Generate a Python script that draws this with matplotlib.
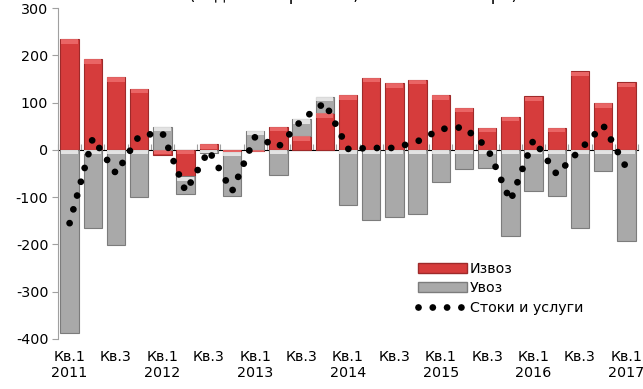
import numpy as np
import matplotlib
matplotlib.use("Agg")
import matplotlib.pyplot as plt
from matplotlib.patches import Patch
from matplotlib.lines import Line2D

# Годишна промена по квартали, 2011 Кв.1 - 2017 Кв.1 (милиони евра)
izvoz = [234, 192, 154, 129, -11, -56, 12, -4, -3, 49, 29, 78, 116,
         153, 141, 148, 116, 89, 47, 70, 113, 47, 166, 99, 143]
uvoz = [-388, -166, -202, -99, 49, -37, -7, -93, 40, -53, 36, 34, -116,
        -148, -141, -135, -69, -41, -39, -183, -88, -97, -166, -44, -192]
stoki_uslugi = [-155, 25, -50, 30, 36, -88, -1, -88, 28, 6, 63, 100, 2,
                4, 4, 18, 44, 48, 5, -108, 22, -52, 0, 52, -38]

xlabels = ['Кв.1\n2011', 'Кв.3', 'Кв.1\n2012', 'Кв.3', 'Кв.1\n2013', 'Кв.3',
           'Кв.1\n2014', 'Кв.3', 'Кв.1\n2015', 'Кв.3', 'Кв.1\n2016', 'Кв.3',
           'Кв.1\n2017']

RED, RED_EDGE, RED_TOP = '#d63c3c', '#9e2a2a', '#f07070'
GRAY, GRAY_EDGE, GRAY_TOP = '#a9a9a9', '#7c7c7c', '#f2f2f2'
FS = 10.3

plt.rcParams['axes.unicode_minus'] = False


def bevel_bars(ax, x, heights, bottoms, color, edge, top_color, width=0.8):
    """Столбови со посветол раб на горната страна (како во Excel)"""
    heights = np.asarray(heights, float)
    bottoms = np.asarray(bottoms, float)
    ax.bar(x, heights, width, bottom=bottoms, color=color,
           edgecolor=edge, linewidth=0.8, zorder=2)
    tops = np.maximum(bottoms, bottoms + heights)
    band = np.minimum(np.abs(heights), 9)
    ax.bar(x, -band, width * 0.92, bottom=tops - 0.6, color=top_color,
           linewidth=0, alpha=0.8, zorder=2.1)


def main():
    x = np.arange(len(izvoz))
    ex = np.array(izvoz, float)
    im = np.array(uvoz, float)
    # увозот се надоврзува на извозот кога имаат ист знак
    im_bottom = np.where(np.sign(im) == np.sign(ex), ex, 0)

    fig = plt.figure(figsize=(6.43, 3.89), dpi=100)
    ax = fig.add_axes([58 / 643, 50 / 389, 580 / 643, 331 / 389])

    bevel_bars(ax, x, ex, np.zeros_like(ex), RED, RED_EDGE, RED_TOP)
    bevel_bars(ax, x, im, im_bottom, GRAY, GRAY_EDGE, GRAY_TOP)

    ax.plot(x, stoki_uslugi, color='black', lw=4.9, dashes=(0.001, 2.1),
            dash_capstyle='round', zorder=3)

    ax.set_xlim(-0.5, len(x) - 0.5)
    ax.set_ylim(-400, 300)
    ax.set_yticks(np.arange(-400, 301, 100))
    ax.tick_params(axis='y', labelsize=FS, length=4, color='#a0a0a0', pad=3)

    ax.set_xticks(x[::2])
    ax.set_xticklabels(xlabels, fontsize=FS, linespacing=1.15)
    ax.tick_params(axis='x', length=0, pad=8)

    for s in ['top', 'right', 'bottom']:
        ax.spines[s].set_visible(False)
    ax.spines['left'].set_color('#a0a0a0')

    # хоризонтална оска на нулата со поделци меѓу кварталите
    zero = ax.secondary_xaxis(400 / 700)
    zero.spines['bottom'].set_color('#a0a0a0')
    zero.set_xticks(np.arange(-0.5, len(x), 1.0))
    zero.set_xticklabels([])
    zero.tick_params(length=4, color='#a0a0a0')

    handles = [Patch(facecolor=RED, edgecolor=RED_EDGE),
               Patch(facecolor=GRAY, edgecolor=GRAY_EDGE),
               Line2D([], [], color='black', lw=4.9, dashes=(0.001, 2.1),
                      dash_capstyle='round')]
    fig.legend(handles, ['Извоз', 'Увоз', 'Стоки и услуги'],
               loc='upper left', bbox_to_anchor=(418 / 643, 1 - 262 / 389),
               frameon=False, fontsize=FS, handlelength=3.4,
               handletextpad=0.2, labelspacing=0.38, borderpad=0,
               borderaxespad=0)

    fig.text(353 / 643, 1 - 0.5 / 389, '(годишна промена, во милиони евра)',
             ha='center', va='baseline', fontsize=12)

    fig.savefig('out.png', dpi=100)


if __name__ == "__main__":
    main()
